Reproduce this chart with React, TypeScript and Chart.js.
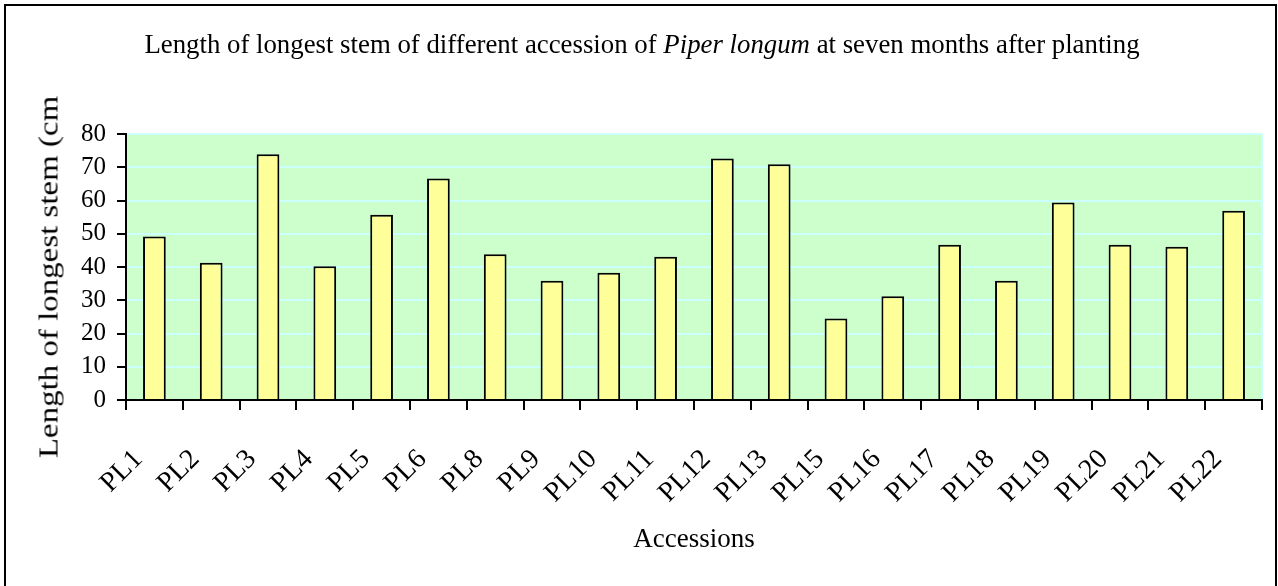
import React, { useEffect, useRef } from "react";
import { Chart, registerables } from "chart.js";

Chart.register(...registerables);

const categories = [
  "PL1", "PL2", "PL3", "PL4", "PL5", "PL6", "PL8", "PL9", "PL10", "PL11",
  "PL12", "PL13", "PL15", "PL16", "PL17", "PL18", "PL19", "PL20", "PL21", "PL22",
];
const stemLength = [
  49.2, 41.3, 73.9, 40.2, 55.7, 66.6, 43.8, 35.9, 38.3, 43.1,
  72.6, 70.9, 24.5, 31.2, 46.7, 35.9, 59.4, 46.7, 46.1, 56.9,
];
const yMin = 0;
const yMax = 80;
const yStep = 10;

const titleBefore = "Length of longest stem of different accession of ";
const titleItalic = "Piper longum";
const titleAfter = " at seven months after planting";
const yAxisTitle = "Length of longest stem (cm";
const xAxisTitle = "Accessions";

const FONT = '"Liberation Serif", "Times New Roman", serif';

const plotBackground = {
  id: "plotBackground",
  beforeDraw(chart: any) {
    const { ctx, chartArea } = chart;
    if (!chartArea) return;
    ctx.save();
    ctx.fillStyle = "#CCFFCC";
    ctx.fillRect(chartArea.left, chartArea.top, chartArea.right - chartArea.left, chartArea.bottom - chartArea.top);
    ctx.strokeStyle = "#CCFFFF";
    ctx.lineWidth = 2;
    ctx.beginPath();
    ctx.moveTo(chartArea.right, chartArea.top);
    ctx.lineTo(chartArea.right, chartArea.bottom);
    ctx.stroke();
    ctx.restore();
  },
};

export default function App() {
  const canvasRef = useRef<HTMLCanvasElement | null>(null);

  useEffect(() => {
    if (!canvasRef.current) return;
    const chart = new Chart(canvasRef.current, {
      type: "bar",
      data: {
        labels: categories,
        datasets: [
          {
            label: yAxisTitle,
            data: stemLength,
            backgroundColor: "#FFFF99",
            borderColor: "#000000",
            borderWidth: 2,
            barPercentage: 0.4,
            categoryPercentage: 1,
          },
        ],
      },
      options: {
        responsive: false,
        animation: false,
        maintainAspectRatio: false,
        layout: { padding: { left: 0, right: 16, top: 134, bottom: 26 } },
        plugins: {
          legend: { display: false },
          title: { display: false },
          tooltip: { enabled: false },
        },
        scales: {
          y: {
            min: yMin,
            max: yMax,
            ticks: {
              stepSize: yStep,
              color: "#000",
              font: { family: FONT, size: 25 },
              padding: 11,
            },
            grid: {
              color: "#CCFFFF",
              lineWidth: 2,
              tickLength: 9,
              tickColor: "#000",
              tickWidth: 2,
            },
            border: { display: true, color: "#000", width: 2 },
            afterFit(scale: any) {
              scale.width = 126;
              scale.paddingTop = 0;
              scale.paddingBottom = 0;
            },
          },
          x: {
            offset: true,
            ticks: {
              color: "#000",
              font: { family: FONT, size: 28 },
              minRotation: 45,
              maxRotation: 45,
              autoSkip: false,
              padding: 33,
              labelOffset: -16,
            },
            grid: {
              offset: true,
              drawOnChartArea: false,
              drawTicks: true,
              tickLength: 10,
              color: "#000",
              tickColor: "#000",
              lineWidth: 2,
            },
            border: { display: true, color: "#000", width: 2 },
            title: {
              display: true,
              text: xAxisTitle,
              color: "#000",
              font: { family: FONT, size: 27 },
              padding: { top: 4, bottom: 4 },
            },
            afterFit(scale: any) {
              scale.height = 160;
              scale.paddingLeft = 0;
              scale.paddingRight = 0;
            },
          },
        },
      },
      plugins: [plotBackground],
    });
    return () => chart.destroy();
  }, []);

  return (
    <div
      style={{
        position: "fixed",
        left: 0,
        top: 0,
        width: 1278,
        height: 586,
        overflow: "hidden",
        background: "#fff",
        fontFamily: FONT,
      }}
    >
      <div
        style={{
          position: "absolute",
          left: 4,
          top: 4,
          width: 1273,
          height: 600,
          boxSizing: "border-box",
          border: "2px solid #000",
        }}
      />
      <canvas
        ref={canvasRef}
        width={1278}
        height={586}
        style={{ position: "absolute", left: 0, top: 0, width: 1278, height: 586 }}
      />
      <div
        style={{
          position: "absolute",
          left: 642,
          top: 31,
          transform: "translateX(-50%)",
          whiteSpace: "nowrap",
          fontSize: 26.8,
          lineHeight: 1,
          color: "#000",
        }}
      >
        {titleBefore}
        <i>{titleItalic}</i>
        {titleAfter}
      </div>
      <div
        style={{
          position: "absolute",
          left: 49,
          top: 277,
          transform: "translate(-50%, -50%) rotate(-90deg) scaleX(1.22)",
          whiteSpace: "nowrap",
          fontSize: 27,
          lineHeight: 1,
          color: "#000",
        }}
      >
        {yAxisTitle}
      </div>
    </div>
  );
}
